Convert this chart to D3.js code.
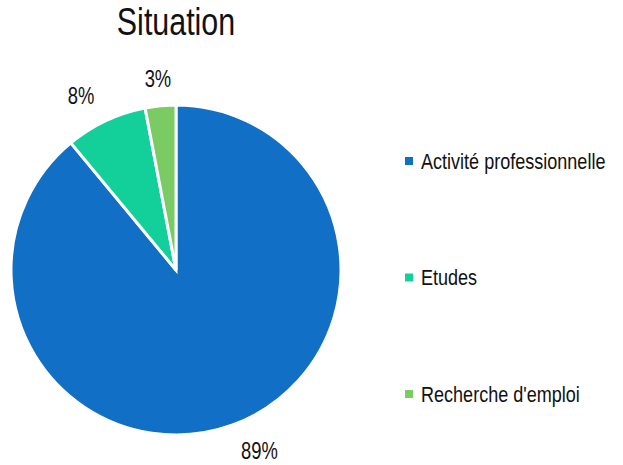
<!DOCTYPE html>
<html>
<head>
<meta charset="utf-8">
<script src="https://cdn.jsdelivr.net/npm/d3@7"></script>
<style>
  body { margin: 0; background: #fff; }
  text { font-family: "Liberation Sans", Arial, sans-serif; fill: #111; }
</style>
</head>
<body>
<svg></svg>
<script>
const width = 623;
const height = 465;

// données
const categories = ["Activité professionnelle", "Etudes", "Recherche d'emploi"];
const valeurs = [89, 8, 3];
const etiquettes = ["89%", "8%", "3%"];
const couleurs = ["#1170c6", "#13d09a", "#7bcb65"];

const svg = d3.select("svg").attr("width", width).attr("height", height);

const cx = 176, cy = 270, rayon = 165;
const etroit = 0.82; // police étroite (type Arial Narrow)

const data = categories.map((c, i) => ({ cat: c, val: valeurs[i], lab: etiquettes[i] }));

const pie = d3.pie().value(d => d.val).sort(null);
const arc = d3.arc().innerRadius(0).outerRadius(rayon);
const arcLabel = d3.arc().innerRadius(rayon + 27).outerRadius(rayon + 27);

const color = d3.scaleOrdinal().domain(categories).range(couleurs);

// titre
svg.append("text")
  .attr("transform", `translate(${cx},35) scale(0.8,1)`)
  .attr("text-anchor", "middle")
  .style("font-size", "38px")
  .text("Situation");

const g = svg.append("g").attr("transform", `translate(${cx},${cy})`);

const arcs = pie(data);

g.selectAll("path")
  .data(arcs)
  .enter()
  .append("path")
  .attr("d", arc)
  .attr("fill", d => color(d.data.cat))
  .attr("stroke", "#fff")
  .attr("stroke-width", 3);

// étiquettes : ancrage selon le côté du camembert
function ancrage(d) {
  const s = Math.sin((d.startAngle + d.endAngle) / 2);
  if (Math.abs(s) < 0.2) return "middle";
  return s > 0 ? "start" : "end";
}

g.selectAll(".lab")
  .data(arcs)
  .enter()
  .append("text")
  .attr("class", "lab")
  .attr("transform", d => `translate(${arcLabel.centroid(d)}) scale(0.8,1)`)
  .attr("dy", "0.35em")
  .attr("text-anchor", ancrage)
  .style("font-size", "23px")
  .text(d => d.data.lab);

// légende
const legY = d3.scalePoint().domain(categories).range([161, 394]);

const leg = svg.append("g").selectAll("g")
  .data(categories)
  .enter()
  .append("g")
  .attr("transform", d => `translate(405,${legY(d)})`);

leg.append("rect")
  .attr("x", 0)
  .attr("y", -4)
  .attr("width", 8)
  .attr("height", 8)
  .attr("fill", d => color(d));

leg.append("text")
  .attr("transform", `translate(16,0) scale(${etroit},1)`)
  .attr("dy", "0.35em")
  .style("font-size", "22px")
  .text(d => d);
</script>
</body>
</html>
